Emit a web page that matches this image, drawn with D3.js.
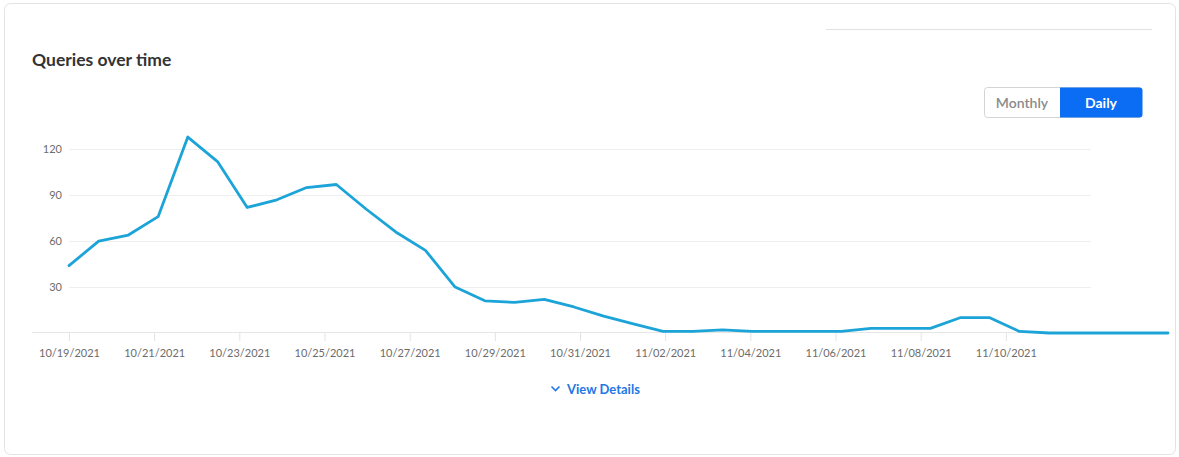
<!DOCTYPE html>
<html>
<head>
<meta charset="utf-8">
<script src="https://cdn.jsdelivr.net/npm/d3@7"></script>
<style>
  html, body { margin: 0; padding: 0; background: #ffffff; }
  svg { display: block; font-family: Lato, "Open Sans", sans-serif; }
</style>
</head>
<body>
<svg id="chart" width="1179" height="457"></svg>
<script>
// Daily query counts
const dates = [
  "2021-10-19","2021-10-20","2021-10-21","2021-10-22","2021-10-23","2021-10-24","2021-10-25",
  "2021-10-26","2021-10-27","2021-10-28","2021-10-29","2021-10-30","2021-10-31","2021-11-01",
  "2021-11-02","2021-11-03","2021-11-04","2021-11-05","2021-11-06","2021-11-07","2021-11-08",
  "2021-11-09","2021-11-10","2021-11-11","2021-11-12","2021-11-13","2021-11-14","2021-11-15",
  "2021-11-16","2021-11-17","2021-11-18","2021-11-19","2021-11-20","2021-11-21","2021-11-22",
  "2021-11-23","2021-11-24","2021-11-25"
];
const queries = [
  44, 60, 64, 76, 128, 112, 82, 87, 95, 97, 81, 66, 54, 30, 21, 20, 22, 17, 11, 6,
  1, 1, 2, 1, 1, 1, 1, 3, 3, 3, 10, 10, 1, 0, 0, 0, 0, 0
];
const axisDomain = ["2021-10-19", "2021-11-12"];
const tickDates = [
  "2021-10-19","2021-10-21","2021-10-23","2021-10-25","2021-10-27","2021-10-29",
  "2021-10-31","2021-11-02","2021-11-04","2021-11-06","2021-11-08","2021-11-10"
];
const yTicks = [30, 60, 90, 120];
const toggleLabels = ["Monthly", "Daily"];

const parse = d3.utcParse("%Y-%m-%d");
const fmt = d3.utcFormat("%m/%d/%Y");
const series = dates.map((d, i) => ({ date: parse(d), value: queries[i] }));

const svg = d3.select("#chart");

// card
svg.append("rect")
  .attr("x", 4.5).attr("y", 3.5).attr("width", 1171).attr("height", 451)
  .attr("rx", 6).attr("fill", "#fff").attr("stroke", "#e3e3e3");

svg.append("line")
  .attr("x1", 826).attr("x2", 1152).attr("y1", 29.5).attr("y2", 29.5)
  .attr("stroke", "#e2e2e2");

svg.append("text")
  .attr("x", 32).attr("y", 66)
  .attr("font-size", 17.5).attr("font-weight", 700).attr("fill", "#333")
  .text("Queries over time");

// Monthly / Daily toggle
const tg = svg.append("g");
tg.append("rect").attr("x", 984.5).attr("y", 87.5).attr("width", 157).attr("height", 30)
  .attr("rx", 3).attr("fill", "#fff").attr("stroke", "#d4d4d4");
tg.append("path")
  .attr("d", "M1060,87.5 H1139.5 A3,3 0 0 1 1142.5,90.5 V114.5 A3,3 0 0 1 1139.5,117.5 H1060 Z")
  .attr("fill", "#0b6cf4");
tg.append("text").attr("x", 1022).attr("y", 108).attr("text-anchor", "middle")
  .attr("font-size", 14).attr("font-weight", 600).attr("fill", "#8a8a8a").text(toggleLabels[0]);
tg.append("text").attr("x", 1101).attr("y", 108).attr("text-anchor", "middle")
  .attr("font-size", 14).attr("font-weight", 700).attr("fill", "#fff").text(toggleLabels[1]);

// scales
const yScale = d3.scaleLinear().domain([0, 120]).range([333, 149.3]);
const xAxisScale = d3.scaleUtc().domain(axisDomain.map(parse)).range([69, 1091]);
const xLine = d3.scaleUtc().domain(d3.extent(series, d => d.date)).range([69, 1168]);

// grid lines
svg.append("g").selectAll("line").data(yTicks).join("line")
  .attr("x1", xAxisScale.range()[0]).attr("x2", xAxisScale.range()[1])
  .attr("y1", d => Math.round(yScale(d)) + 0.5).attr("y2", d => Math.round(yScale(d)) + 0.5)
  .attr("stroke", "#efefef");

svg.append("line")
  .attr("x1", 32).attr("x2", xAxisScale.range()[1])
  .attr("y1", Math.round(yScale(0)) - 0.5).attr("y2", Math.round(yScale(0)) - 0.5)
  .attr("stroke", "#e6e6e6");

// y labels
svg.append("g").selectAll("text").data(yTicks).join("text")
  .attr("x", 62).attr("y", d => yScale(d) + 4)
  .attr("text-anchor", "end").attr("font-size", 11).attr("fill", "#6c6c6c")
  .text(d => d);

// x axis
const xAxis = d3.axisBottom(xAxisScale)
  .tickValues(tickDates.map(parse))
  .tickFormat(fmt)
  .tickSize(9).tickPadding(8);
const gx = svg.append("g").attr("transform", `translate(0,${Math.round(yScale(0)) - 1})`).call(xAxis);
gx.select(".domain").remove();
gx.selectAll(".tick line").attr("stroke", "#e3e3e3");
gx.selectAll(".tick text")
  .attr("font-family", "Lato, sans-serif").attr("font-size", 11).attr("fill", "#6c6c6c");

// series line
const line = d3.line().x(d => xLine(d.date)).y(d => yScale(d.value));
svg.append("path").datum(series)
  .attr("d", line)
  .attr("fill", "none").attr("stroke", "#1ca4d8").attr("stroke-width", 2.8)
  .attr("stroke-linejoin", "round").attr("stroke-linecap", "round");

// details link
svg.append("path")
  .attr("d", "M551.5,386.5 L555.5,390.5 L559.5,386.5")
  .attr("fill", "none").attr("stroke", "#2277e6").attr("stroke-width", 1.6);
svg.append("text").attr("x", 567).attr("y", 394)
  .attr("font-size", 13).attr("font-weight", 700).attr("fill", "#2277e6")
  .text("View Details");
</script>
</body>
</html>
